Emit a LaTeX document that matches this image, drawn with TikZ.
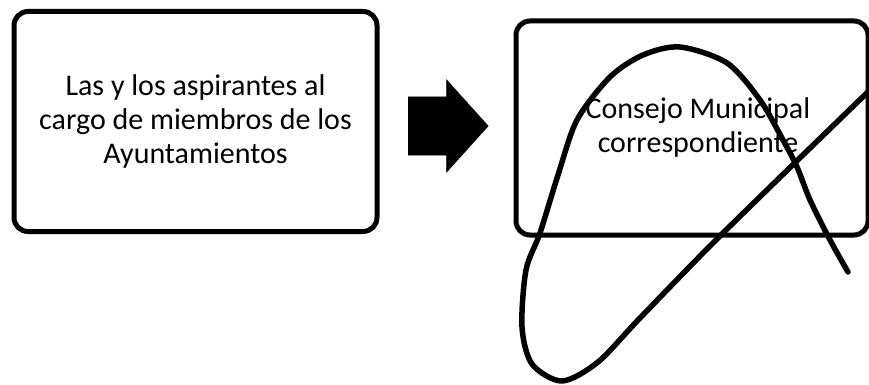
\documentclass[tikz,border=0pt]{standalone}
\usepackage{fontspec}
\setmainfont{Carlito}
\usepackage{tikz}
\usetikzlibrary{shapes.arrows, positioning}

\tikzset{
  caja/.style={draw=black, line width=5pt, rounded corners=14pt, align=center,
               inner sep=0pt, font=\fontsize{30}{34}\selectfont},
  flechabloque/.style={single arrow, fill=black, draw=black, inner xsep=0pt, inner ysep=29pt,
               minimum height=80pt, single arrow head extend=17pt,
               single arrow tip angle=96},
  tachado/.style={line width=5.5pt, line cap=round, line join=round}
}

\begin{document}
\begin{tikzpicture}[x=1pt, y=-1pt]
    \useasboundingbox (0,0) rectangle (869,385);

    \node[caja, minimum width=363pt, minimum height=220pt] (aspirantes) at (195.5,121.5)
        {Las y los aspirantes al\\cargo de miembros de los\\Ayuntamientos};
    \node[caja, minimum width=352pt, minimum height=214pt] (consejo) at (692,128)
        {\hspace*{12pt}Consejo Municipal\\\hspace*{12pt}correspondiente};

    \node[flechabloque, anchor=tail] (flecha) at (408,126) {};

    % trazo que cruza el recuadro
    \draw[tachado] plot[smooth, tension=0.5] coordinates {
        (872,88) (723,233) (640,318) (598,362) (562,381) (532,364) (522,327)
        (526,270) (540,233) (558,175) (577,120) (610,77) (643,55) (680,47)
        (727,63) (760,100) (783,140) (797,167) (810,200) (830,240) (848,272)};
\end{tikzpicture}
\end{document}
